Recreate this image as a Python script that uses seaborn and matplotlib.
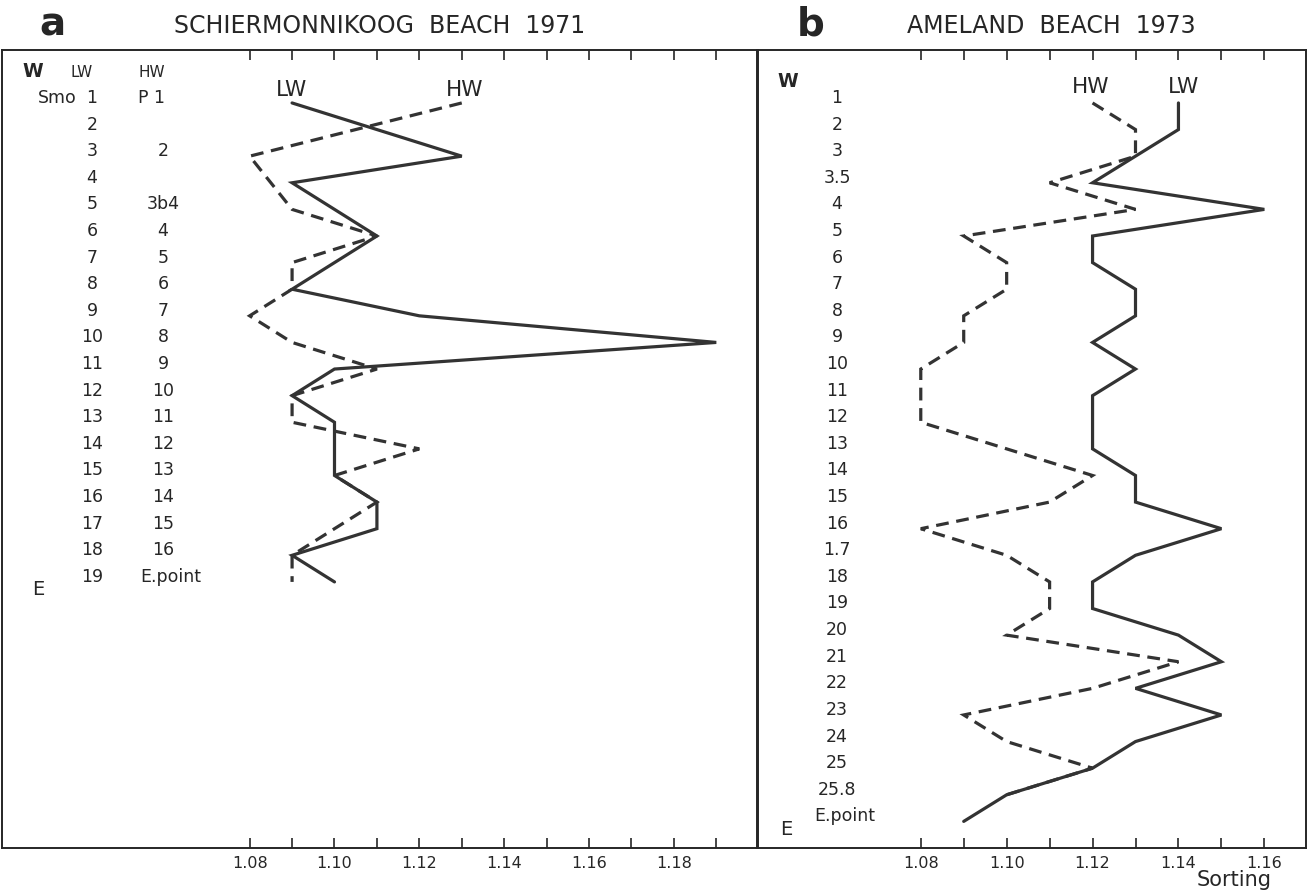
import numpy as np
import pandas as pd
import matplotlib
matplotlib.use('Agg')
import matplotlib.pyplot as plt
import matplotlib.transforms as mtrans
import seaborn as sns

# Panel a - Schiermonnikoog beach 1971
a_lw_labels = ['1', '2', '3', '4', '5', '6', '7', '8', '9', '10',
               '11', '12', '13', '14', '15', '16', '17', '18', '19']
a_hw_labels = ['P 1', '', '2', '', '3b4', '4', '5', '6', '7', '8',
               '9', '10', '11', '12', '13', '14', '15', '16', 'E.point']
a_lw = [1.09, 1.11, 1.13, 1.09, 1.10, 1.11, 1.10, 1.09, 1.12, 1.19,
        1.10, 1.09, 1.10, 1.10, 1.10, 1.11, 1.11, 1.09, 1.10]
a_hw = [1.13, np.nan, 1.08, np.nan, 1.09, 1.11, 1.09, 1.09, 1.08, 1.09,
        1.11, 1.09, 1.09, 1.12, 1.10, 1.11, 1.10, 1.09, 1.09]
a_ticks = [1.08, 1.09, 1.10, 1.11, 1.12, 1.13, 1.14, 1.15, 1.16, 1.17, 1.18, 1.19]

# Panel b - Ameland beach 1973
b_labels = ['1', '2', '3', '3.5', '4', '5', '6', '7', '8', '9', '10', '11', '12', '13',
            '14', '15', '16', '1.7', '18', '19', '20', '21', '22', '23', '24', '25',
            '25.8', 'E.point']
b_lw = [1.14, 1.14, 1.13, 1.12, 1.16, 1.12, 1.12, 1.13, 1.13, 1.12, 1.13, 1.12, 1.12, 1.12,
        1.13, 1.13, 1.15, 1.13, 1.12, 1.12, 1.14, 1.15, 1.13, 1.15, 1.13, 1.12,
        1.10, 1.09]
b_hw = [1.12, 1.13, 1.13, 1.11, 1.13, 1.09, 1.10, 1.10, 1.09, 1.09, 1.08, 1.08, 1.08, 1.10,
        1.12, 1.11, 1.08, 1.10, 1.11, 1.11, 1.10, 1.14, 1.12, 1.09, 1.10, 1.12,
        1.10, np.nan]
b_ticks = [1.08, 1.09, 1.10, 1.11, 1.12, 1.13, 1.14, 1.15, 1.16]

sns.set_theme(style='white')
plt.rcParams['font.family'] = ['DejaVu Sans']

W, H = 1311, 893
INK = '#262626'
LINE = '#333333'
ROW_OFF = -0.19  # labels sit slightly above the plotted row


def fx(px):
    return px / W


def fy(py):
    return 1 - py / H


def draw_series(ax, values, dashed):
    df = pd.DataFrame({'sorting': values, 'row': np.arange(len(values))}).dropna()
    kw = dict(color=LINE, linewidth=2.3, solid_joinstyle='miter')
    if dashed:
        kw.update(linestyle=(0, (4, 2.4)), dash_joinstyle='miter')
    sns.lineplot(data=df, x='sorting', y='row', sort=False, estimator=None, ax=ax, **kw)


def style_axes(ax, xlim, ticks):
    ax.set_xlim(*xlim)
    ax.set_ylim(28.0, -1.99)
    ax.set_xticks(ticks)
    ax.set_xticklabels(['%.2f' % t if round(t * 100) % 2 == 0 else '' for t in ticks],
                       fontsize=11.5, color=INK)
    ax.set_yticks([])
    ax.set_xlabel('')
    ax.set_ylabel('')
    ax.tick_params(axis='x', which='both', direction='in', length=7, width=1.2,
                   top=True, bottom=True, labeltop=False, labelbottom=True,
                   pad=6, color=INK)
    for sp in ax.spines.values():
        sp.set_visible(True)
        sp.set_color(INK)
        sp.set_linewidth(1.4)


def label(ax, x_px, row, s, size=12.5, **kw):
    # x in figure pixels, y in data rows
    tr = mtrans.blended_transform_factory(mtrans.IdentityTransform(), ax.transData)
    ax.text(x_px, row, s, transform=tr, fontsize=size, ha='center', va='center',
            color=INK, **kw)


fig = plt.figure(figsize=(W / 100, H / 100), dpi=100)
ax_a = fig.add_axes([fx(1.5), fy(848), fx(757) - fx(1.5), fy(50) - fy(848)])
ax_b = fig.add_axes([fx(758), fy(848), fx(1306) - fx(758), fy(50) - fy(848)])

# panel a
draw_series(ax_a, a_lw, dashed=False)
draw_series(ax_a, a_hw, dashed=True)
style_axes(ax_a, (1.0215, 1.1996), a_ticks)

for i, (lw_lab, hw_lab) in enumerate(zip(a_lw_labels, a_hw_labels)):
    label(ax_a, 92, i + ROW_OFF, lw_lab)
    if hw_lab:
        hx = {'P 1': 151, 'E.point': 171}.get(hw_lab, 163)
        label(ax_a, hx, i + ROW_OFF, hw_lab)
label(ax_a, 57, ROW_OFF, 'Smo')
label(ax_a, 33, -1.19, 'W', size=13.5, fontweight='bold')
label(ax_a, 82, -1.15, 'LW', size=11)
label(ax_a, 152, -1.15, 'HW', size=11)
label(ax_a, 38, 18.3, 'E', size=14)
label(ax_a, 292, -0.5, 'LW', size=15.5)
label(ax_a, 465, -0.5, 'HW', size=15.5)

# panel b
draw_series(ax_b, b_lw, dashed=False)
draw_series(ax_b, b_hw, dashed=True)
style_axes(ax_b, (1.0421, 1.1697), b_ticks)

for i, lab in enumerate(b_labels):
    label(ax_b, 845 if lab == 'E.point' else 837, i + ROW_OFF, lab)
label(ax_b, 788, -0.79, 'W', size=13.5, fontweight='bold')
label(ax_b, 786, 27.3, 'E', size=14)
label(ax_b, 1091, -0.6, 'HW', size=15.5)
label(ax_b, 1184, -0.6, 'LW', size=15.5)

# titles and panel letters
fig.text(fx(52), fy(25), 'a', fontsize=28, fontweight='bold', ha='center', va='center',
         color=INK, family=['Liberation Sans Narrow', 'DejaVu Sans'])
fig.text(fx(811), fy(25), 'b', fontsize=28, fontweight='bold', ha='center', va='center',
         color=INK, family=['Liberation Sans Narrow', 'DejaVu Sans'])
fig.text(fx(380), fy(26), 'SCHIERMONNIKOOG  BEACH  1971', fontsize=17,
         ha='center', va='center', color=INK)
fig.text(fx(1051), fy(26), 'AMELAND  BEACH  1973', fontsize=17,
         ha='center', va='center', color=INK)
fig.text(fx(1234), fy(880), 'Sorting', fontsize=15, ha='center', va='center', color=INK)

fig.savefig('out.png', dpi=100, facecolor='white')
